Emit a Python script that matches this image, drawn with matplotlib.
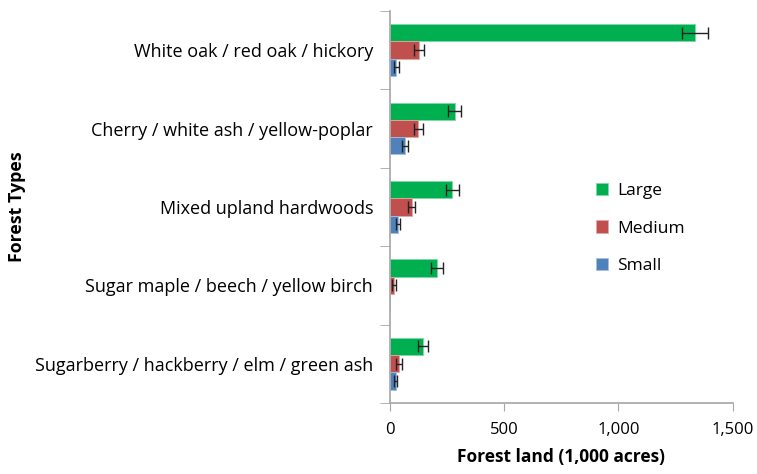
import numpy as np
from matplotlib import pyplot as plt

plt.rcParams['font.family'] = ['Open Sans', 'DejaVu Sans']

forest_types = ['White oak / red oak / hickory',
                'Cherry / white ash / yellow-poplar',
                'Mixed upland hardwoods',
                'Sugar maple / beech / yellow birch',
                'Sugarberry / hackberry / elm / green ash']
large = [1335, 283, 274, 207, 143]
large_err = [56, 30, 29, 25, 22]
medium = [127, 124, 95, 19, 41]
medium_err = [21, 20, 17, 8, 13]
small = [29, 66, 36, 0, 25]
small_err = [11, 14, 10, 0, 6]

fig = plt.figure(figsize=(7.57, 4.74), dpi=100)
ax = fig.add_axes([0.515, 0.150, 0.453, 0.827])

y = np.arange(len(forest_types))
h = 0.22
errkw = dict(ecolor='#222222', elinewidth=1, capsize=4, capthick=1)
ax.barh(y - h, large, height=h, color='#00B050', edgecolor='#7FD8A7', linewidth=0.6,
        xerr=large_err, error_kw=errkw, label='Large')
ax.barh(y, medium, height=h, color='#C0504D', edgecolor='#E0A8A6', linewidth=0.6,
        xerr=medium_err, error_kw=errkw, label='Medium')
sm_err = [e if v > 0 else np.nan for v, e in zip(small, small_err)]
ax.barh(y + h, small, height=h, color='#4F81BD', edgecolor='#A7C0DE', linewidth=0.6,
        xerr=sm_err, error_kw=errkw, label='Small')

ax.set_ylim(len(forest_types) - 0.5, -0.5)
ax.set_xlim(0, 1500)
ax.set_yticks(y)
ax.set_yticklabels(forest_types, fontsize=13)
ax.set_yticks(np.arange(-0.5, len(forest_types)), minor=True)
ax.tick_params(axis='y', which='major', length=0, pad=12)
ax.tick_params(axis='y', which='minor', length=7, color='#A6A6A6')
ax.set_xticks([0, 500, 1000, 1500])
ax.set_xticklabels(['0', '500', '1,000', '1,500'], fontsize=12)
ax.tick_params(axis='x', length=6, color='#A6A6A6', pad=8)

for s in ['top', 'right']:
    ax.spines[s].set_visible(False)
for s in ['left', 'bottom']:
    ax.spines[s].set_color('#A6A6A6')
    ax.spines[s].set_linewidth(1.2)

ax.set_xlabel('Forest land (1,000 acres)', fontsize=12.5, fontweight='bold', labelpad=7)
fig.text(0.022, 0.563, 'Forest Types', rotation=90, fontsize=12.8, fontweight='bold',
         ha='center', va='center')

ax.legend(loc='center left', bbox_to_anchor=(0.767, 0.518), bbox_transform=fig.transFigure,
          frameon=False, fontsize=12.5, handlelength=0.7, handleheight=0.7,
          labelspacing=1.25, handletextpad=0.5)

plt.savefig('out.png', dpi=100)
plt.close()
